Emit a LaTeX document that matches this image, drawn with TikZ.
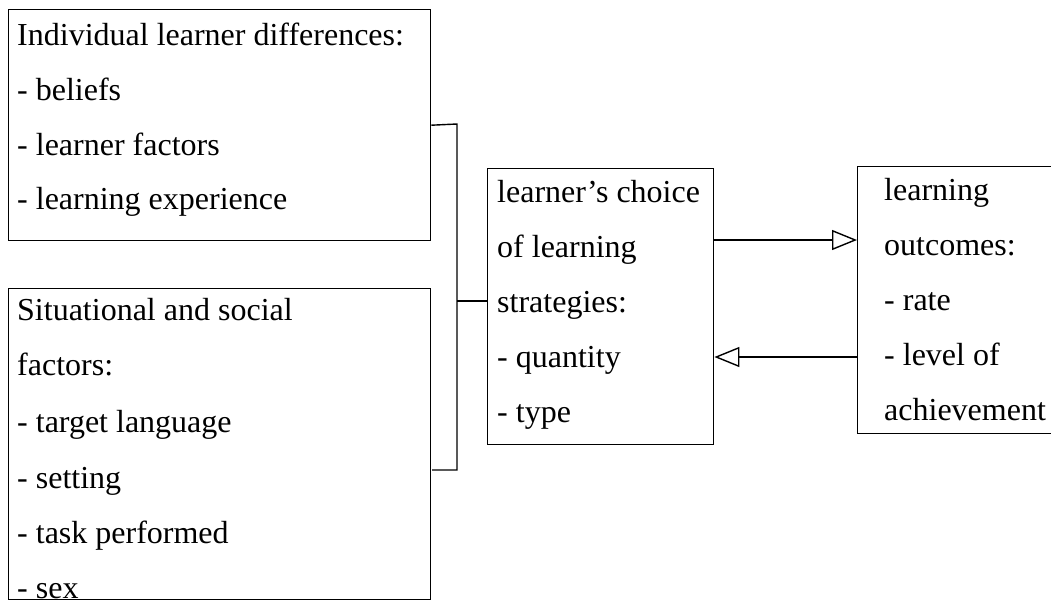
\documentclass[tikz,border=0pt]{standalone}
\usepackage{fontspec}
\setmainfont{Liberation Serif}
\usetikzlibrary{arrows.meta}
\begin{document}
\begin{tikzpicture}[x=1pt,y=-1pt,
  box/.style={draw,line width=1.4pt,inner sep=0pt,anchor=north west},
  txt/.style={anchor=base west,inner sep=0pt,font=\fontsize{32}{38}\selectfont},
  link/.style={line width=1.4pt},
  flow/.style={line width=1.4pt,-{Triangle[open,length=25pt,width=20pt,line width=1.4pt]}}]
\useasboundingbox (0,0) rectangle (1051,603);
% boxes
\node[box,minimum width=422pt,minimum height=231pt] (idl) at (8,9) {};
\node[box,minimum width=422pt,minimum height=311pt] (sit) at (8,288) {};
\node[box,minimum width=226pt,minimum height=276pt] (ch) at (487,168) {};
\node[box,minimum width=220pt,minimum height=267pt] (out) at (857,166) {};
% texts box 1
\node[txt] (a1) at (17,45) {Individual learner differences:};
\node[txt] (a2) at (17,100) {- beliefs};
\node[txt] (a3) at (17,155) {- learner factors};
\node[txt] (a4) at (17,209) {- learning experience};
% texts box 2
\node[txt] (b1) at (17,320) {Situational and social};
\node[txt] (b2) at (17,375) {factors:};
\node[txt] (b3) at (17,432) {- target language};
\node[txt] (b4) at (17,488) {- setting};
\node[txt] (b5) at (17,543) {- task performed};
\node[txt] (b6) at (17,598) {- sex};
% texts centre
\node[txt] (c1) at (497,202) {learner’s choice};
\node[txt] (c2) at (497,257) {of learning};
\node[txt] (c3) at (497,312) {strategies:};
\node[txt] (c4) at (497,367) {- quantity};
\node[txt] (c5) at (497,422) {- type};
% texts right
\node[txt] (d1) at (884,200) {learning};
\node[txt] (d2) at (884,255) {outcomes:};
\node[txt] (d3) at (884,310) {- rate};
\node[txt] (d4) at (884,365) {- level of};
\node[txt] (d5) at (884,420) {achievement};
% bracket
\coordinate (bt) at (457,124);
\coordinate (bb) at (457,470);
\coordinate (sb) at (432,470);
\coordinate (bm) at (457,301);
\draw[link] (idl.east) -- (bt) -- (bb) -- (sb);
\draw[link] (bm) -- (ch.west |- bm);
% arrows
\coordinate (ya) at (0,240);
\coordinate (yb) at (0,357);
\draw[flow] (ch.east |- ya) -- (out.west |- ya);
\draw[flow] (out.west |- yb) -- (ch.east |- yb);
\end{tikzpicture}
\end{document}
